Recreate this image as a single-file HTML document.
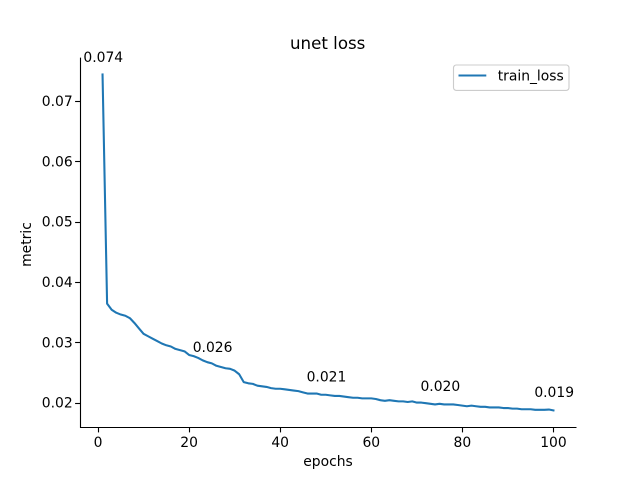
<!DOCTYPE html>
<html>
<head>
<meta charset="utf-8">
<style>
html,body{margin:0;padding:0;background:#fff;}
svg{display:block;font-family:"DejaVu Sans",sans-serif;}
</style>
</head>
<body>
<svg id="chart" width="640" height="480" viewBox="0 0 640 480" xmlns="http://www.w3.org/2000/svg">
  <rect x="0" y="0" width="640" height="480" fill="#fff"/>
  <text x="327.7" y="49" font-size="16.67" text-anchor="middle" fill="#000">unet loss</text>
  <text x="328" y="466" font-size="13.89" text-anchor="middle" fill="#000">epochs</text>
  <text transform="translate(31,244.5) rotate(-90)" font-size="13.89" text-anchor="middle" fill="#000">metric</text>
  <g id="ticks"></g>
  <path id="series" fill="none" stroke="#1f77b4" stroke-width="2.08" stroke-linejoin="round" stroke-linecap="square"></path>
  <g id="notes"></g>
  <line x1="80.5" y1="57.6" x2="80.5" y2="427.7" stroke="#000" stroke-width="1.11"/>
  <line x1="80" y1="427.5" x2="576.5" y2="427.5" stroke="#000" stroke-width="1.11"/>
  <g>
    <rect x="453.5" y="65" width="115.5" height="25.4" rx="2.8" ry="2.8" fill="#fff" fill-opacity="0.8" stroke="#ccc" stroke-width="1.11"/>
    <line x1="458.5" y1="75.5" x2="486.3" y2="75.5" stroke="#1f77b4" stroke-width="2.08"/>
    <text x="497.7" y="80.5" font-size="13.89" fill="#000">train_loss</text>
  </g>
</svg>
<script>
var trainLoss = [
  0.0744,0.0364,0.0354,0.0349,0.0346,0.0344,0.0340,0.0332,0.0323,0.0314,
  0.0310,0.0306,0.0302,0.0298,0.0295,0.0293,0.0289,0.0287,0.0285,0.0279,
  0.0277,0.0274,0.0270,0.0267,0.0265,0.0261,0.0259,0.0257,0.0256,0.0253,
  0.0247,0.0234,0.0232,0.0231,0.0228,0.0227,0.0226,0.0224,0.0223,0.0223,
  0.0222,0.0221,0.0220,0.0219,0.0217,0.0215,0.0215,0.0215,0.0213,0.0213,
  0.0212,0.0211,0.0211,0.0210,0.0209,0.0208,0.0208,0.0207,0.0207,0.0207,
  0.0206,0.0204,0.0203,0.0204,0.0203,0.0202,0.0202,0.0201,0.0202,0.0200,
  0.0200,0.0199,0.0198,0.0197,0.0198,0.0197,0.0197,0.0197,0.0196,0.0195,
  0.0194,0.0195,0.0194,0.0193,0.0193,0.0192,0.0192,0.0192,0.0191,0.0191,
  0.0190,0.0190,0.0189,0.0189,0.0189,0.0188,0.0188,0.0188,0.01885,0.0187
];
var xTickValues = [0,20,40,60,80,100];
var xTickLabels = ["0","20","40","60","80","100"];
var yTickValues = [0.02,0.03,0.04,0.05,0.06,0.07];
var yTickLabels = ["0.02","0.03","0.04","0.05","0.06","0.07"];
var noteEpochs = [-3.2,20.8,45.8,70.8,95.8];
var noteValues = [0.0745,0.0264,0.0215,0.0199,0.0189];
var noteLabels = ["0.074","0.026","0.021","0.020","0.019"];
var noteOffset = 0.002;

function xScale(v){ return 97.99 + v * 4.5546; }
function yScale(v){ return 402.6 - (v - 0.02) * 6032; }

var NS = "http://www.w3.org/2000/svg";
var ticksGroup = document.getElementById("ticks");
var notesGroup = document.getElementById("notes");

var d = "";
for (var i = 0; i < trainLoss.length; i++) {
  d += (i ? "L" : "M") + xScale(i + 1).toFixed(2) + " " + yScale(trainLoss[i]).toFixed(2);
}
document.getElementById("series").setAttribute("d", d);

xTickValues.forEach(function (v, i) {
  var px = Math.round(xScale(v)) + 0.5;
  var tick = document.createElementNS(NS, "line");
  
  
  tick.setAttribute("x1", px);
  tick.setAttribute("x2", px);
  tick.setAttribute("y1", 427.5);
  tick.setAttribute("y2", 432.4);
  tick.setAttribute("stroke", "#000");
  tick.setAttribute("stroke-width", 1.11);
  ticksGroup.appendChild(tick);
  var label = document.createElementNS(NS, "text");
  
  
  label.setAttribute("x", xScale(v));
  label.setAttribute("y", 447);
  label.setAttribute("font-size", 13.89);
  label.setAttribute("text-anchor", "middle");
  label.textContent = xTickLabels[i];
  ticksGroup.appendChild(label);
});

yTickValues.forEach(function (v, i) {
  var py = Math.round(yScale(v)) + 0.5;
  var tick = document.createElementNS(NS, "line");
  
  
  tick.setAttribute("x1", 75.1);
  tick.setAttribute("x2", 80);
  tick.setAttribute("y1", py);
  tick.setAttribute("y2", py);
  tick.setAttribute("stroke", "#000");
  tick.setAttribute("stroke-width", 1.11);
  ticksGroup.appendChild(tick);
  var label = document.createElementNS(NS, "text");
  
  
  label.setAttribute("x", 72.7);
  label.setAttribute("y", yScale(v) + 5);
  label.setAttribute("font-size", 13.89);
  label.setAttribute("text-anchor", "end");
  label.textContent = yTickLabels[i];
  ticksGroup.appendChild(label);
});

noteEpochs.forEach(function (e, i) {
  var note = document.createElementNS(NS, "text");
  
  
  note.setAttribute("x", xScale(e));
  note.setAttribute("y", yScale(noteValues[i] + noteOffset));
  note.setAttribute("font-size", 13.89);
  note.textContent = noteLabels[i];
  notesGroup.appendChild(note);
});
</script>
</body>
</html>
